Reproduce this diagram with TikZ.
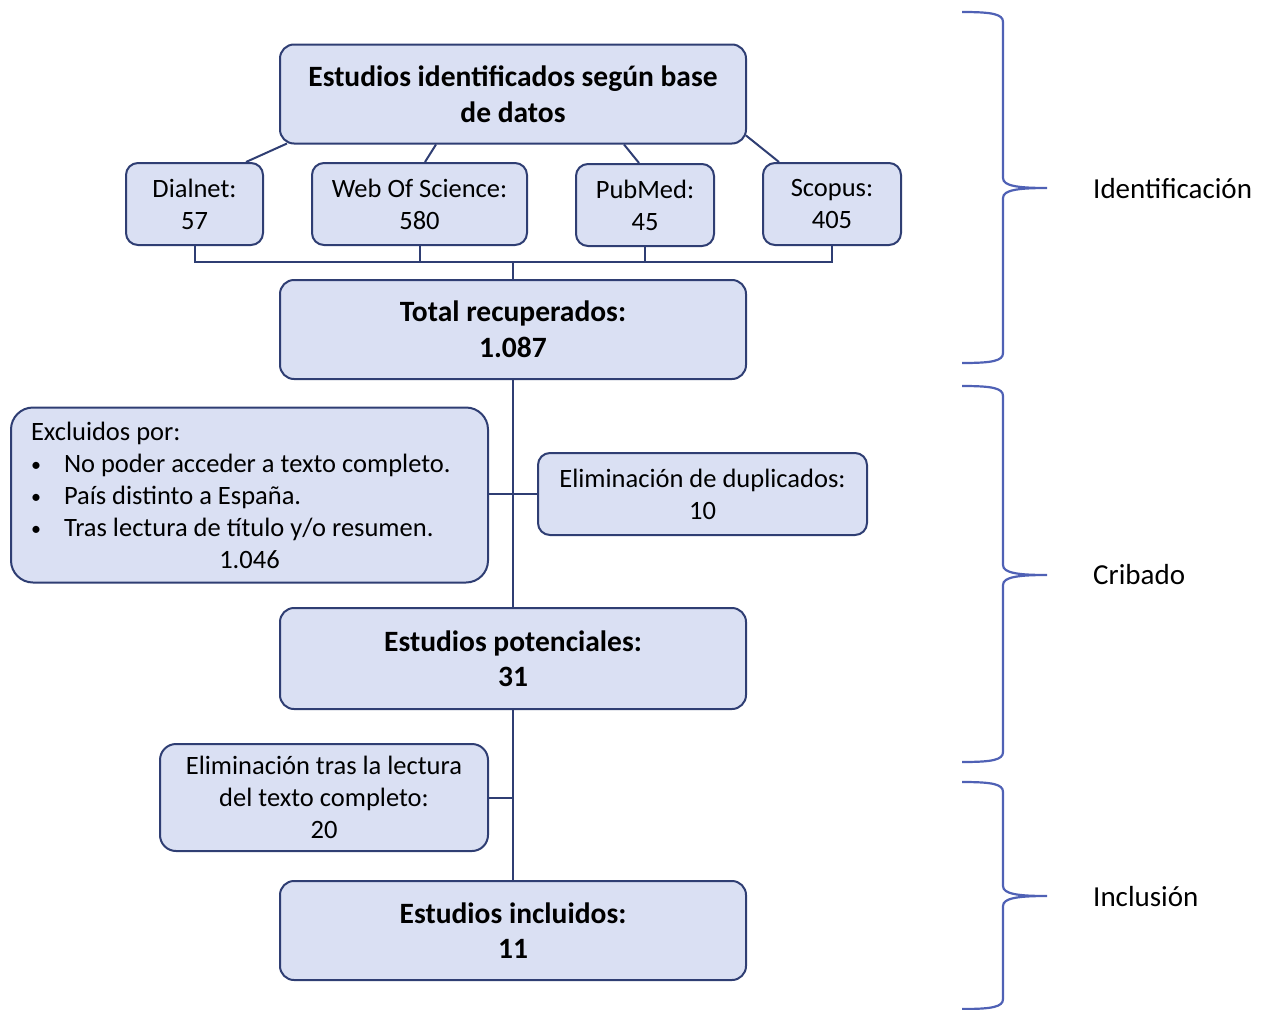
\documentclass[tikz,border=0pt]{standalone}
\usepackage{fontspec}
\setmainfont{Carlito}
\usetikzlibrary{calc}
\definecolor{boxfill}{RGB}{218,224,243}
\definecolor{boxline}{RGB}{47,62,115}
\definecolor{bracecol}{RGB}{79,97,181}
\newcommand{\mybul}{\makebox[33pt][l]{\raisebox{1pt}{\fontsize{20}{20}\selectfont\textbullet}}}
\tikzset{
  base/.style={draw=boxline, fill=boxfill, line width=2pt, rounded corners=14pt,
    inner sep=0pt, align=center, font=\fontsize{26.5}{32}\selectfont},
  bigbox/.style={base, minimum width=466pt, minimum height=99pt,
    font=\fontsize{29.5}{35.5}\selectfont\bfseries},
  smallbox/.style={base, minimum height=82pt, rounded corners=12pt},
  conn/.style={draw=boxline, line width=2pt},
  bracestyle/.style={draw=bracecol, line width=2.2pt},
  sidelabel/.style={anchor=west, inner sep=0pt, font=\fontsize{29}{32}\selectfont}
}
\begin{document}
\begin{tikzpicture}[x=1pt,y=-1pt]
\useasboundingbox (0,0) rectangle (1263,1009);

% main boxes
\node[bigbox] (top) at (513,94) {Estudios identificados según base\\de datos};
\node[smallbox, minimum width=137pt] (dial) at (194.5,204) {Dialnet:\\57};
\node[smallbox, minimum width=215pt] (wos) at (419.5,204) {Web Of Science:\\580};
\node[smallbox, minimum width=138pt] (pub) at (645,205) {PubMed:\\45};
\node[smallbox, minimum width=138pt] (scop) at (832,204) {Scopus:\\405};
\node[bigbox] (tot) at (513,329.5) {Total recuperados:\\1.087};

\node[base, minimum width=477pt, minimum height=175pt, rounded corners=22pt,
  align=left] (excl) at (249.5,495)
  {Excluidos por:\\
   \mybul No poder acceder a texto completo.\\
   \mybul País distinto a España.\\
   \mybul Tras lectura de título y/o resumen.\\
   \makebox[437pt]{1.046}};
\node[smallbox, minimum width=329pt, minimum height=82pt] (elim) at (702.5,494)
  {Eliminación de duplicados:\\10};

\node[bigbox, minimum height=101pt] (pot) at (513,658.5) {Estudios potenciales:\\31};
\node[smallbox, minimum width=328pt, minimum height=107pt, rounded corners=16pt]
  (elim2) at (324,797.5) {Eliminación tras la lectura\\del texto completo:\\20};
\node[bigbox] (inc) at (513,930.5) {Estudios incluidos:\\11};

% connectors from top box to sources
\draw[conn] ($(top.south west)+(8,-1)$) -- ($(dial.north east)+(-18,0)$);
\draw[conn] ($(top.south west)+(157,0)$) -- ($(wos.north)+(5.5,0)$);
\draw[conn] ($(top.south west)+(345,0)$) -- ($(pub.north)+(-6,0)$);
\draw[conn] ($(top.south east)+(-1,-9)$) -- ($(scop.north west)+(17,0)$);

% bus
\coordinate (bus) at (513,262);
\draw[conn] (dial.south) |- (bus) -| (scop.south);
\draw[conn] (wos.south) -- (wos.south |- bus);
\draw[conn] (pub.south) -- (pub.south |- bus);
\draw[conn] (bus) -- (tot.north);

% main vertical
\draw[conn] (tot.south) -- (pot.north);
\draw[conn] (excl.east |- elim.west) -- (elim.west);
\draw[conn] (pot.south) -- (inc.north);
\draw[conn] (elim2.east) -- (elim2.east -| pot.south);

% braces
\draw[bracestyle] (962,12) .. controls (992,12) and (1003,14) .. (1003,22)
  -- (1003,178) .. controls (1003,186) and (1018,188) .. (1047,188)
  (1047,188) .. controls (1018,188) and (1003,190) .. (1003,198)
  -- (1003,353) .. controls (1003,361) and (992,363) .. (962,363);
\draw[bracestyle] (962,386) .. controls (992,386) and (1003,388) .. (1003,396)
  -- (1003,565) .. controls (1003,573) and (1018,575) .. (1047,575)
  (1047,575) .. controls (1018,575) and (1003,577) .. (1003,585)
  -- (1003,752) .. controls (1003,760) and (992,762) .. (962,762);
\draw[bracestyle] (962,782) .. controls (992,782) and (1003,784) .. (1003,792)
  -- (1003,886) .. controls (1003,894) and (1018,896) .. (1047,896)
  (1047,896) .. controls (1018,896) and (1003,898) .. (1003,906)
  -- (1003,999) .. controls (1003,1007) and (992,1009) .. (962,1009);

% side labels
\node[sidelabel] (lid) at (1093,189) {Identificación};
\node[sidelabel] (lcr) at (1093,575) {Cribado};
\node[sidelabel] (lin) at (1093,897) {Inclusión};
\end{tikzpicture}
\end{document}
